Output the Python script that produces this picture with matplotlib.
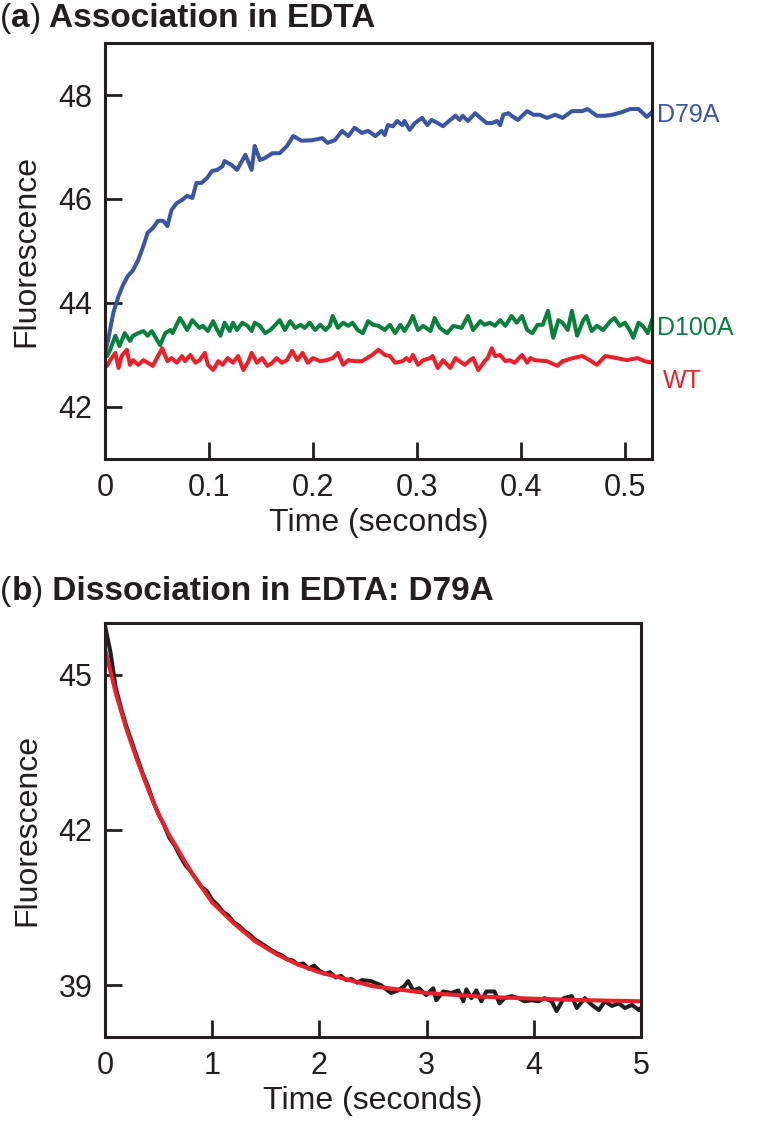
import matplotlib
matplotlib.use("Agg")
from matplotlib import pyplot as plt
from matplotlib import transforms

plt.rcParams['font.family'] = ['Liberation Sans', 'DejaVu Sans']

# (a) association traces, time in seconds
blue_t = [0.000, 0.003, 0.008, 0.013, 0.017, 0.022, 0.027, 0.032, 0.037, 0.041,
          0.046, 0.051, 0.056, 0.060, 0.064, 0.069, 0.074, 0.079, 0.084, 0.088,
          0.093, 0.098, 0.103, 0.108, 0.113, 0.115, 0.122, 0.127, 0.135, 0.141,
          0.144, 0.149, 0.154, 0.161, 0.168, 0.175, 0.181, 0.189, 0.199, 0.209,
          0.214, 0.221, 0.228, 0.234, 0.240, 0.247, 0.253, 0.260, 0.266, 0.269,
          0.272, 0.277, 0.281, 0.286, 0.288, 0.293, 0.298, 0.305, 0.310, 0.314,
          0.320, 0.325, 0.332, 0.337, 0.341, 0.344, 0.349, 0.356, 0.361, 0.367,
          0.372, 0.377, 0.380, 0.383, 0.388, 0.391, 0.397, 0.406, 0.412, 0.418,
          0.425, 0.433, 0.440, 0.449, 0.459, 0.464, 0.473, 0.481, 0.488, 0.497,
          0.505, 0.513, 0.521, 0.526]
blue_f = [43.04, 43.29, 43.81, 44.13, 44.33, 44.52, 44.63, 44.83, 45.10, 45.35,
          45.44, 45.58, 45.58, 45.48, 45.79, 45.92, 45.98, 46.06, 46.02, 46.31,
          46.31, 46.40, 46.54, 46.56, 46.63, 46.73, 46.65, 46.56, 46.85, 46.56,
          47.02, 46.75, 46.79, 46.88, 46.88, 47.02, 47.21, 47.12, 47.13, 47.17,
          47.08, 47.13, 47.31, 47.21, 47.37, 47.27, 47.31, 47.21, 47.31, 47.23,
          47.42, 47.40, 47.50, 47.42, 47.50, 47.33, 47.46, 47.56, 47.42, 47.52,
          47.46, 47.40, 47.52, 47.60, 47.52, 47.60, 47.50, 47.65, 47.56, 47.46,
          47.46, 47.50, 47.42, 47.62, 47.65, 47.60, 47.52, 47.69, 47.62, 47.62,
          47.56, 47.62, 47.56, 47.69, 47.69, 47.73, 47.60, 47.60, 47.62, 47.67,
          47.73, 47.73, 47.58, 47.67]

green_t = [0.000, 0.002, 0.005, 0.010, 0.014, 0.019, 0.024, 0.027, 0.032, 0.037,
           0.041, 0.045, 0.050, 0.053, 0.058, 0.063, 0.065, 0.072, 0.075, 0.079,
           0.084, 0.088, 0.091, 0.094, 0.099, 0.104, 0.108, 0.111, 0.115, 0.120,
           0.123, 0.127, 0.132, 0.137, 0.141, 0.144, 0.149, 0.154, 0.159, 0.163,
           0.168, 0.173, 0.178, 0.183, 0.188, 0.192, 0.197, 0.202, 0.207, 0.212,
           0.216, 0.219, 0.224, 0.229, 0.234, 0.238, 0.243, 0.248, 0.253, 0.258,
           0.263, 0.269, 0.274, 0.279, 0.284, 0.288, 0.293, 0.296, 0.301, 0.306,
           0.313, 0.317, 0.322, 0.329, 0.335, 0.343, 0.349, 0.354, 0.361, 0.365,
           0.370, 0.375, 0.380, 0.385, 0.391, 0.396, 0.401, 0.406, 0.411, 0.416,
           0.421, 0.426, 0.431, 0.436, 0.440, 0.445, 0.449, 0.454, 0.460, 0.463,
           0.468, 0.473, 0.479, 0.486, 0.490, 0.495, 0.500, 0.505, 0.508, 0.513,
           0.517, 0.522, 0.526]
green_f = [43.04, 42.98, 43.10, 43.37, 43.17, 43.42, 43.27, 43.37, 43.42, 43.46,
           43.37, 43.46, 43.29, 43.19, 43.42, 43.48, 43.42, 43.71, 43.62, 43.48,
           43.67, 43.58, 43.52, 43.56, 43.46, 43.65, 43.48, 43.37, 43.62, 43.46,
           43.62, 43.48, 43.62, 43.56, 43.46, 43.62, 43.56, 43.42, 43.48, 43.56,
           43.67, 43.48, 43.65, 43.52, 43.58, 43.52, 43.62, 43.48, 43.58, 43.48,
           43.56, 43.75, 43.52, 43.62, 43.56, 43.62, 43.48, 43.42, 43.65, 43.58,
           43.56, 43.48, 43.58, 43.42, 43.58, 43.46, 43.62, 43.75, 43.48, 43.56,
           43.46, 43.71, 43.52, 43.42, 43.56, 43.52, 43.75, 43.48, 43.65, 43.58,
           43.62, 43.56, 43.67, 43.56, 43.75, 43.62, 43.75, 43.48, 43.42, 43.58,
           43.58, 43.85, 43.33, 43.67, 43.62, 43.48, 43.85, 43.37, 43.67, 43.75,
           43.46, 43.56, 43.48, 43.65, 43.71, 43.56, 43.62, 43.46, 43.33, 43.62,
           43.56, 43.42, 43.67]

red_t = [0.000, 0.002, 0.005, 0.010, 0.013, 0.016, 0.021, 0.024, 0.027, 0.032,
         0.037, 0.041, 0.046, 0.051, 0.055, 0.060, 0.064, 0.069, 0.074, 0.077,
         0.082, 0.087, 0.091, 0.096, 0.099, 0.104, 0.109, 0.113, 0.118, 0.123,
         0.128, 0.133, 0.138, 0.141, 0.146, 0.151, 0.156, 0.161, 0.165, 0.170,
         0.175, 0.180, 0.185, 0.190, 0.195, 0.200, 0.207, 0.213, 0.219, 0.224,
         0.229, 0.234, 0.240, 0.247, 0.252, 0.257, 0.263, 0.269, 0.274, 0.279,
         0.286, 0.290, 0.293, 0.296, 0.301, 0.306, 0.313, 0.315, 0.320, 0.325,
         0.332, 0.337, 0.341, 0.346, 0.351, 0.354, 0.359, 0.365, 0.368, 0.372,
         0.375, 0.380, 0.385, 0.389, 0.394, 0.401, 0.406, 0.409, 0.413, 0.425,
         0.435, 0.440, 0.450, 0.459, 0.466, 0.473, 0.481, 0.492, 0.502, 0.512,
         0.519, 0.526]
red_f = [42.81, 42.79, 42.90, 43.04, 42.75, 42.98, 43.10, 42.81, 42.90, 42.81,
         42.90, 42.85, 42.79, 42.98, 43.13, 42.88, 42.94, 42.85, 42.98, 42.88,
         43.00, 42.85, 42.90, 43.04, 42.81, 42.71, 42.88, 42.81, 42.94, 42.85,
         42.98, 42.71, 42.88, 43.04, 42.85, 42.94, 42.79, 42.85, 42.94, 42.85,
         42.90, 43.08, 42.90, 43.04, 42.85, 42.94, 42.88, 42.90, 42.94, 43.04,
         42.81, 42.90, 42.88, 42.88, 42.94, 43.00, 43.10, 43.00, 42.98, 42.85,
         42.88, 42.94, 42.88, 43.00, 42.81, 42.90, 42.94, 42.98, 42.75, 42.90,
         42.75, 42.94, 42.88, 42.81, 42.90, 42.94, 42.71, 42.88, 42.94, 43.13,
         42.98, 43.00, 42.88, 42.90, 42.85, 43.00, 42.85, 42.94, 42.90, 42.88,
         42.79, 42.88, 42.94, 42.98, 42.90, 42.81, 42.98, 42.94, 42.90, 42.94,
         42.88, 42.85]

# (b) dissociation trace and fit
trace_t = [0.00, 0.02, 0.05, 0.10, 0.15, 0.20, 0.25, 0.30, 0.35, 0.40,
           0.45, 0.50, 0.55, 0.60, 0.65, 0.70, 0.75, 0.80, 0.85, 0.90,
           0.95, 1.00, 1.05, 1.10, 1.15, 1.20, 1.25, 1.30, 1.35, 1.40,
           1.45, 1.50, 1.55, 1.60, 1.65, 1.70, 1.75, 1.80, 1.85, 1.90,
           1.95, 2.00, 2.05, 2.10, 2.15, 2.20, 2.25, 2.30, 2.35, 2.40,
           2.481, 2.575, 2.669, 2.734, 2.790, 2.828, 2.875, 2.931, 2.996, 3.062,
           3.090, 3.155, 3.230, 3.296, 3.343, 3.371, 3.418, 3.464, 3.511, 3.558,
           3.633, 3.680, 3.727, 3.792, 3.858, 3.914, 3.979, 4.045, 4.101, 4.167,
           4.213, 4.279, 4.354, 4.401, 4.476, 4.541, 4.607, 4.663, 4.728, 4.794,
           4.850, 4.916, 4.981, 5.000]
trace_f = [45.95, 45.75, 45.45, 44.75, 44.35, 44.00, 43.70, 43.40, 43.10, 42.85,
           42.55, 42.30, 42.10, 41.85, 41.70, 41.50, 41.32, 41.20, 41.05, 40.90,
           40.82, 40.65, 40.55, 40.42, 40.35, 40.22, 40.15, 40.05, 39.98, 39.88,
           39.82, 39.75, 39.68, 39.62, 39.58, 39.50, 39.48, 39.40, 39.42, 39.32,
           39.38, 39.28, 39.22, 39.25, 39.15, 39.18, 39.10, 39.12, 39.05, 39.10,
           39.08, 39.00, 38.85, 38.90, 38.98, 39.08, 38.90, 38.94, 38.81, 38.94,
           38.71, 38.88, 38.85, 38.90, 38.69, 38.92, 38.75, 38.90, 38.69, 38.88,
           38.88, 38.65, 38.75, 38.79, 38.75, 38.69, 38.71, 38.69, 38.75, 38.69,
           38.50, 38.75, 38.79, 38.56, 38.75, 38.62, 38.52, 38.69, 38.60, 38.65,
           38.56, 38.62, 38.52, 38.56]

fit_t = [0.0, 0.1, 0.2, 0.3, 0.4, 0.5, 0.6, 0.8, 1.0, 1.2,
         1.4, 1.6, 1.8, 2.0, 2.5, 3.0, 3.5, 4.0, 4.5, 5.0]
fit_f = [45.50, 44.65, 43.95, 43.35, 42.80, 42.30, 41.90, 41.20, 40.60, 40.20,
         39.85, 39.60, 39.40, 39.25, 38.98, 38.85, 38.78, 38.74, 38.71, 38.69]

BLUE = "#3A55A4"
GREEN = "#0B7F3C"
RED = "#E8212B"
BLACK = "#231F20"

fig = plt.figure(figsize=(7.63, 11.29), dpi=100)
ax1 = fig.add_axes([0.1376, 0.5935, 0.8545 - 0.1376, 0.9619 - 0.5935])
ax2 = fig.add_axes([0.1376, 0.0815, 0.8401 - 0.1376, 0.4482 - 0.0815])

for ax in (ax1, ax2):
    for s in ax.spines.values():
        s.set_linewidth(2.2)
        s.set_color(BLACK)
    ax.tick_params(direction="in", length=12, width=2, labelsize=22,
                   colors=BLACK)
    ax.tick_params(axis="x", pad=10)
    ax.tick_params(axis="y", pad=9)
    ax.set_ylabel("Fluorescence", fontsize=23, color=BLACK, labelpad=12)
    ax.set_xlabel("Time (seconds)", fontsize=23, color=BLACK, labelpad=4)

ax1.plot(blue_t, blue_f, color=BLUE, lw=2.9)
ax1.plot(green_t, green_f, color=GREEN, lw=2.9)
ax1.plot(red_t, red_f, color=RED, lw=2.9)
ax1.set_xlim(0, 0.526)
ax1.set_ylim(41, 49)
ax1.set_xticks([0, 0.1, 0.2, 0.3, 0.4, 0.5], ["0", "0.1", "0.2", "0.3", "0.4", "0.5"])
ax1.set_yticks([42, 44, 46, 48])

tr = transforms.blended_transform_factory(ax1.transAxes, ax1.transData)
ax1.text(1.01, 47.62, "D79A", color=BLUE, fontsize=18, va="center", transform=tr)
ax1.text(1.01, 43.52, "D100A", color=GREEN, fontsize=18, va="center", transform=tr)
ax1.text(1.02, 42.5, "WT", color=RED, fontsize=18, va="center", transform=tr)

ax2.plot(trace_t, trace_f, color=BLACK, lw=2.9)
ax2.plot(fit_t, fit_f, color=RED, lw=2.9)
ax2.set_xlim(0, 5)
ax2.set_ylim(38, 46)
ax2.set_xticks([0, 1, 2, 3, 4, 5])
ax2.set_yticks([39, 42, 45])


def panel_title(y, letter, rest):
    # "(" and ")" in regular weight, the rest bold, chained left to right
    p = fig.text(0.0, y, "(", fontsize=24, va="bottom", color=BLACK)
    a = plt.annotate(letter, xy=(1, 0), xycoords=p, va="bottom", fontsize=24,
                     fontweight="bold", color=BLACK)
    b = plt.annotate(")", xy=(1, 0), xycoords=a, va="bottom", fontsize=24, color=BLACK)
    plt.annotate(" " + rest, xy=(1, 0), xycoords=b, va="bottom", fontsize=24,
                 fontweight="bold", color=BLACK)


panel_title(0.970, "a", "Association in EDTA")
panel_title(0.4624, "b", "Dissociation in EDTA: D79A")

fig.savefig("out.png", dpi=100)
